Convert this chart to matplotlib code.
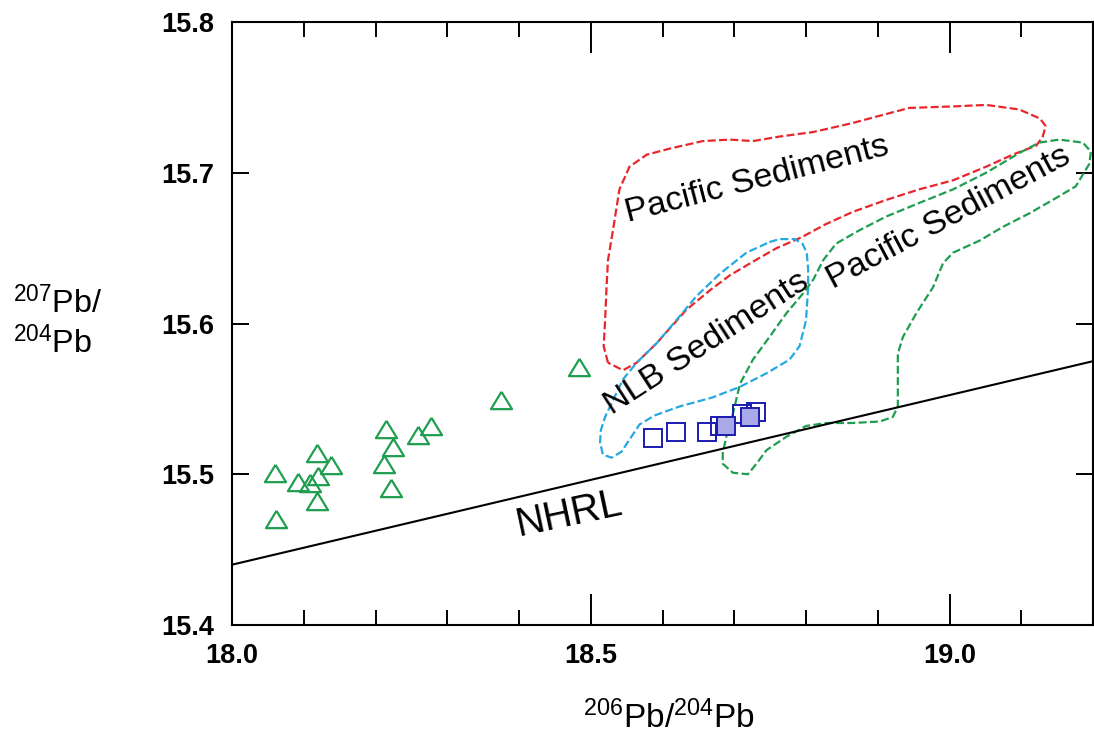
import matplotlib
matplotlib.use("Agg")
import matplotlib.pyplot as plt
from matplotlib.ticker import MultipleLocator, FixedLocator

plt.rcParams['font.family'] = ['Liberation Sans', 'DejaVu Sans']
plt.rcParams['mathtext.default'] = 'regular'

# --- Sample data -------------------------------------------------------
# Arc lavas (triangles)
tri_x = [18.060, 18.062, 18.092, 18.109, 18.120, 18.118, 18.138, 18.119,
         18.214, 18.225, 18.212, 18.222, 18.259, 18.278, 18.375, 18.484]
tri_y = [15.501, 15.470, 15.495, 15.494, 15.499, 15.514, 15.506, 15.482,
         15.530, 15.518, 15.507, 15.491, 15.526, 15.532, 15.549, 15.571]

# Open squares
sq_open_x = [18.587, 18.619, 18.662, 18.680, 18.711, 18.730]
sq_open_y = [15.524, 15.528, 15.528, 15.532, 15.540, 15.541]

# Filled squares
sq_fill_x = [18.689, 18.722]
sq_fill_y = [15.532, 15.538]

# Northern Hemisphere Reference Line end points
nhrl_x = [18.0, 19.2]
nhrl_y = [15.440, 15.575]

# Pacific sediment field (red outline)
pac1_x = [18.524, 18.518, 18.520, 18.522, 18.524, 18.531, 18.540, 18.554,
          18.578, 18.610, 18.656, 18.694, 18.726, 18.763, 18.810, 18.865,
          18.912, 18.944, 19.005, 19.051, 19.097, 19.126, 19.134, 19.130,
          19.121, 19.088, 19.051, 19.005, 18.958, 18.912, 18.865, 18.828,
          18.793, 18.759, 18.726, 18.694, 18.666, 18.633, 18.605, 18.592,
          18.564, 18.545]
pac1_y = [15.574, 15.585, 15.602, 15.624, 15.642, 15.662, 15.689, 15.704,
          15.712, 15.716, 15.721, 15.722, 15.721, 15.724, 15.727, 15.733,
          15.739, 15.743, 15.744, 15.745, 15.742, 15.736, 15.731, 15.724,
          15.718, 15.712, 15.704, 15.695, 15.689, 15.682, 15.674, 15.666,
          15.657, 15.650, 15.641, 15.632, 15.622, 15.609, 15.594, 15.587,
          15.574, 15.569]

# NLB sediment field (cyan outline)
nlb_x = [18.749, 18.763, 18.784, 18.795, 18.801, 18.803, 18.803, 18.800,
         18.791, 18.777, 18.745, 18.708, 18.670, 18.624, 18.589, 18.568,
         18.554, 18.543, 18.529, 18.517, 18.513, 18.514, 18.520, 18.531,
         18.545, 18.564, 18.592, 18.619, 18.647, 18.680, 18.717]
nlb_y = [15.654, 15.656, 15.656, 15.653, 15.647, 15.636, 15.624, 15.602,
         15.585, 15.576, 15.567, 15.558, 15.551, 15.545, 15.539, 15.533,
         15.523, 15.515, 15.511, 15.513, 15.521, 15.529, 15.538, 15.549,
         15.563, 15.574, 15.587, 15.602, 15.618, 15.633, 15.647]

# Pacific sediment field (green outline)
pac2_x = [19.125, 19.153, 19.186, 19.197, 19.195, 19.176, 19.144, 19.111,
          19.074, 19.042, 19.005, 18.991, 18.977, 18.954, 18.935, 18.928,
          18.928, 18.928, 18.921, 18.903, 18.865, 18.828, 18.800, 18.773,
          18.745, 18.731, 18.719, 18.698, 18.684, 18.684, 18.689, 18.698,
          18.708, 18.726, 18.749, 18.773, 18.796, 18.810, 18.824, 18.842,
          18.875, 18.912, 18.958, 19.005, 19.051, 19.097]
pac2_y = [15.720, 15.722, 15.720, 15.714, 15.706, 15.691, 15.682, 15.673,
          15.664, 15.655, 15.647, 15.640, 15.624, 15.607, 15.591, 15.580,
          15.563, 15.545, 15.538, 15.535, 15.534, 15.534, 15.532, 15.525,
          15.516, 15.507, 15.500, 15.501, 15.507, 15.514, 15.525, 15.540,
          15.560, 15.576, 15.591, 15.607, 15.620, 15.629, 15.642, 15.653,
          15.662, 15.671, 15.680, 15.689, 15.700, 15.713]

x_ticks = [18.0, 18.5, 19.0]
x_ticklabels = ['18.0', '18.5', '19.0']
y_ticks = [15.4, 15.5, 15.6, 15.7, 15.8]
y_ticklabels = ['15.4', '15.5', '15.6', '15.7', '15.8']

# --- Figure ------------------------------------------------------------
fig = plt.figure(figsize=(10.94, 7.33), dpi=100)
ax = fig.add_axes([232 / 1094, 1 - 625 / 733, (1093 - 232) / 1094, (625 - 22) / 733])
ax.set_xlim(18.0, 19.2)
ax.set_ylim(15.4, 15.8)

dash = (0, (3.6, 1.5))


def closed(xs, ys):
    return list(xs) + [xs[0]], list(ys) + [ys[0]]


for xs, ys, col in [(pac1_x, pac1_y, '#e8262b'),
                    (nlb_x, nlb_y, '#25a9e0'),
                    (pac2_x, pac2_y, '#1f9e50')]:
    cx, cy = closed(xs, ys)
    ax.plot(cx, cy, color=col, lw=1.6, linestyle=dash, zorder=2)

ax.plot(nhrl_x, nhrl_y, color='black', lw=1.5, zorder=3)

tri_marker = [(0, 0.82), (-1, -0.82), (1, -0.82), (0, 0.82)]
ax.plot(tri_x, tri_y, linestyle='none', marker=tri_marker, markersize=15.2,
        markerfacecolor='none', markeredgecolor='#1f9e50', markeredgewidth=1.6,
        zorder=4)

ax.plot(sq_open_x, sq_open_y, linestyle='none', marker='s', markersize=12.8,
        markerfacecolor='none', markeredgecolor='#1c1cb0', markeredgewidth=1.4,
        zorder=5)
ax.plot(sq_fill_x, sq_fill_y, linestyle='none', marker='s', markersize=12.8,
        markerfacecolor='#a9a9ea', markeredgecolor='#1c1cb0', markeredgewidth=1.4,
        zorder=6)

# Field labels
txt_kw = dict(ha='left', va='baseline', rotation_mode='anchor', color='black', zorder=7)
ax.text(18.552, 15.667, 'Pacific Sediments', fontsize=24.6, rotation=14.5, **txt_kw)
ax.text(18.837, 15.623, 'Pacific Sediments', fontsize=24.6, rotation=28, **txt_kw)
ax.text(18.529, 15.539, 'NLB Sediments', fontsize=24.6, rotation=33, **txt_kw)
ax.text(18.399, 15.459, 'NHRL', fontsize=28.5, rotation=12, **txt_kw)

# Axes frame and ticks
for s in ax.spines.values():
    s.set_linewidth(1.5)

ax.xaxis.set_major_locator(FixedLocator(x_ticks))
ax.xaxis.set_minor_locator(MultipleLocator(0.1))
ax.yaxis.set_major_locator(FixedLocator(y_ticks))
ax.set_xticklabels(x_ticklabels)
ax.set_yticklabels(y_ticklabels)
ax.tick_params(axis='x', which='major', direction='in', length=22, width=1.4,
               top=True, bottom=True, pad=13)
ax.tick_params(axis='x', which='minor', direction='in', length=11, width=1.4,
               top=True, bottom=True)
ax.tick_params(axis='y', which='major', direction='in', length=12, width=1.4,
               left=True, right=True, pad=13)
for lab in ax.get_xticklabels() + ax.get_yticklabels():
    lab.set_fontsize(19.5)
    lab.set_fontweight('bold')

# Axis titles
fig.text(669 / 1094, 1 - 728 / 733, '$^{206}$Pb/$^{204}$Pb', fontsize=24,
         ha='center', va='baseline')
fig.text(13 / 1094, 1 - 313 / 733, '$^{207}$Pb/', fontsize=23.3,
         ha='left', va='baseline')
fig.text(13 / 1094, 1 - 353 / 733, '$^{204}$Pb', fontsize=23.3,
         ha='left', va='baseline')

fig.savefig('out.png', dpi=100)
